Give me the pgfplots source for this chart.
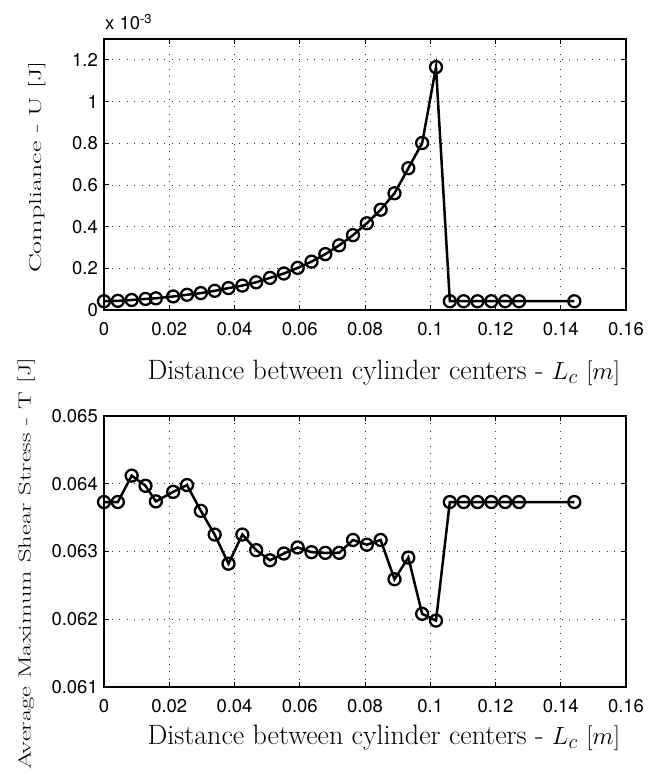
\documentclass[border=0pt]{standalone}
\usepackage{fontspec}
\usepackage{graphicx}
\usepackage{pgfplots}
\pgfplotsset{compat=1.18}
\newfontfamily\heros{TeX Gyre Heros}

\pgfplotstableread{
x y
0.00000 0.042e-3
0.00424 0.044e-3
0.00848 0.048e-3
0.01272 0.053e-3
0.01590 0.056e-3
0.02120 0.065e-3
0.02544 0.073e-3
0.02968 0.081e-3
0.03392 0.092e-3
0.03816 0.105e-3
0.04240 0.117e-3
0.04664 0.133e-3
0.05088 0.154e-3
0.05512 0.175e-3
0.05936 0.202e-3
0.06360 0.232e-3
0.06784 0.268e-3
0.07208 0.310e-3
0.07632 0.359e-3
0.08056 0.416e-3
0.08480 0.481e-3
0.08904 0.560e-3
0.09328 0.680e-3
0.09752 0.801e-3
0.10176 1.165e-3
0.10600 0.042e-3
0.11024 0.042e-3
0.11448 0.042e-3
0.11872 0.042e-3
0.12296 0.042e-3
0.12720 0.042e-3
0.14416 0.042e-3
}\compliance

\pgfplotstableread{
x y
0.00000 0.06373
0.00424 0.06373
0.00848 0.06412
0.01272 0.06397
0.01590 0.06374
0.02120 0.06388
0.02544 0.06398
0.02968 0.06360
0.03392 0.06325
0.03816 0.06282
0.04240 0.06325
0.04664 0.06302
0.05088 0.06287
0.05512 0.06297
0.05936 0.06306
0.06360 0.06299
0.06784 0.06298
0.07208 0.06298
0.07632 0.06317
0.08056 0.06310
0.08480 0.06317
0.08904 0.06259
0.09328 0.06291
0.09752 0.06208
0.10176 0.06198
0.10600 0.06373
0.11024 0.06373
0.11448 0.06373
0.11872 0.06373
0.12296 0.06373
0.12720 0.06373
0.14416 0.06373
}\shear

\pgfplotsset{
  myax/.style={
    scale only axis, width=522pt, height=271pt, anchor=south west,
    clip=false,
    scaled x ticks=false, scaled y ticks=false,
    xmin=0, xmax=0.16,
    xtick={0,0.02,0.04,0.06,0.08,0.1,0.12,0.14,0.16},
    xticklabels={0,0.02,0.04,0.06,0.08,0.1,0.12,0.14,0.16},
    tick align=inside, xtick pos=both, ytick pos=both,
    major tick length=5pt,
    grid=major,
    major grid style={black!80, line width=0.8pt, dash pattern=on 1pt off 6.5pt},
    axis line style={black, line width=1.2pt},
    every tick/.style={black, line width=1pt},
    tick label style={font=\heros\fontsize{18.5}{20}\selectfont, text=black},
    xticklabel style={inner sep=0pt, yshift=-12pt},
    yticklabel style={inner sep=0pt, xshift=-6pt},
    label style={font=\fontsize{28}{32}\selectfont},
  },
  myplot/.style={black, line width=2.5pt, mark=o, mark size=6pt,
    mark options={line width=2.3pt, solid}},
}

\begin{document}
\begin{tikzpicture}
\useasboundingbox (0,0) rectangle (661pt,778pt);
\begin{axis}[myax, at={(104pt,468pt)},
  ymin=0, ymax=1.3e-3,
  ytick={0,0.2e-3,0.4e-3,0.6e-3,0.8e-3,1.0e-3,1.2e-3},
  yticklabels={0,0.2,0.4,0.6,0.8,1,1.2},
  xlabel={Distance between cylinder centers - $L_c$ $[m]$},
  xlabel style={at={(rel axis cs:0.536,-0.232)}, anchor=center},
  ylabel={\scalebox{1}[0.62]{Compliance - U [J]}},
  ylabel style={at={(rel axis cs:-0.128,0.528)}, anchor=center},
]
\addplot[myplot] table[x=x,y=y] {\compliance};
\node[anchor=base west, inner sep=0pt, font=\heros\fontsize{18.5}{20}\selectfont]
  at (rel axis cs:0,1) [xshift=1pt, yshift=9pt] {x 10\textsuperscript{-3}};
\end{axis}

\begin{axis}[myax, at={(104pt,91pt)},
  ymin=0.061, ymax=0.065,
  ytick={0.061,0.062,0.063,0.064,0.065},
  yticklabels={0.061,0.062,0.063,0.064,0.065},
  xlabel={Distance between cylinder centers - $L_c$ $[m]$},
  xlabel style={at={(rel axis cs:0.536,-0.188)}, anchor=center},
  ylabel={\scalebox{1}[0.66]{Average Maximum Shear Stress - T [J]}},
  ylabel style={at={(rel axis cs:-0.149,0.455)}, anchor=center,
    font=\fontsize{26.5}{30}\selectfont},
]
\addplot[myplot] table[x=x,y=y] {\shear};
\end{axis}
\end{tikzpicture}
\end{document}
